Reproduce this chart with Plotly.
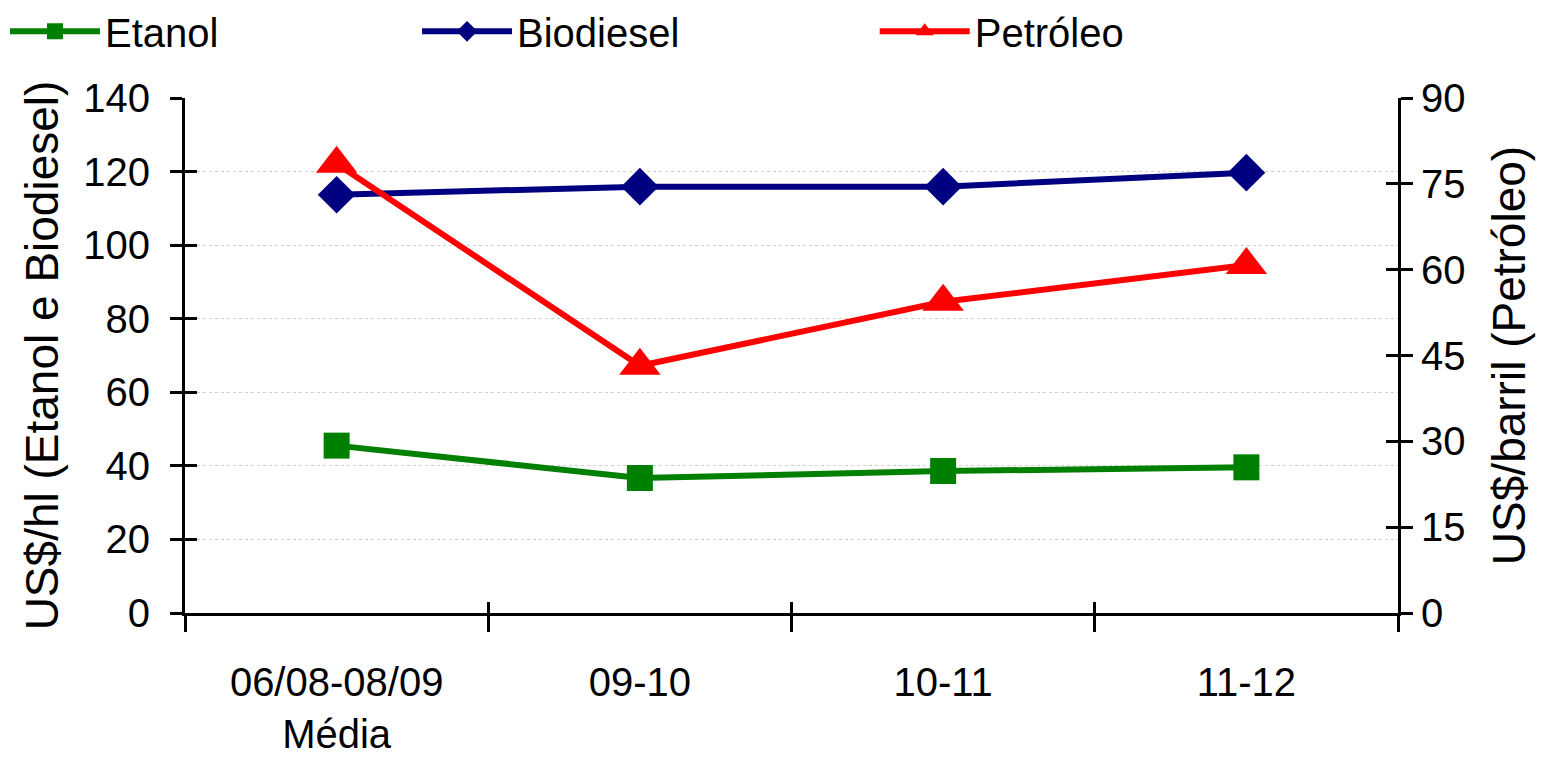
import plotly.graph_objects as go

categories = ["06/08-08/09<br>Média", "09-10", "10-11", "11-12"]
etanol = [45.5, 36.7, 38.6, 39.6]
biodiesel = [113.7, 115.9, 115.9, 119.7]
petroleo = [78.5, 43.2, 54.4, 60.8]

left_ticks = [0, 20, 40, 60, 80, 100, 120, 140]
right_ticks = [0, 15, 30, 45, 60, 75, 90]

FONT = "Liberation Sans, Arial, sans-serif"

fig = go.Figure()
fig.add_trace(go.Scatter(x=categories, y=etanol, name="Etanol", mode="lines+markers",
                         legend="legend",
                         line=dict(color="#008000", width=6),
                         marker=dict(symbol="square", size=26, color="#008000")))
fig.add_trace(go.Scatter(x=categories, y=biodiesel, name="Biodiesel", mode="lines+markers",
                         legend="legend2",
                         line=dict(color="#000080", width=6),
                         marker=dict(symbol="diamond", size=29, color="#000080")))
fig.add_trace(go.Scatter(x=categories, y=petroleo, name="Petróleo", mode="lines+markers",
                         yaxis="y2", legend="legend3",
                         line=dict(color="#FF0000", width=6),
                         marker=dict(symbol="triangle-up", size=36, color="#FF0000")))
# invisible helper traces so the overlay (tick-crossing) axes are drawn
fig.add_trace(go.Scatter(x=categories, y=etanol, xaxis="x2", yaxis="y3", mode="markers",
                         marker=dict(opacity=0), showlegend=False, hoverinfo="skip"))
fig.add_trace(go.Scatter(x=categories, y=petroleo, xaxis="x2", yaxis="y4", mode="markers",
                         marker=dict(opacity=0), showlegend=False, hoverinfo="skip"))

axis_common = dict(showline=True, linecolor="black", linewidth=3, tickcolor="black",
                   tickwidth=3, zeroline=False)

def leg(x):
    return dict(orientation="h", x=x, y=1.1295, xanchor="left", yanchor="middle",
                font=dict(size=40), itemwidth=90, bgcolor="rgba(0,0,0,0)")

fig.update_layout(
    width=1537, height=753,
    margin=dict(l=177, r=147, t=90, b=148, autoexpand=False),
    paper_bgcolor="white", plot_bgcolor="white",
    font=dict(family=FONT, size=40, color="black"),
    showlegend=True,
    legend=leg(-0.1484),
    legend2=leg(0.1913),
    legend3=leg(0.5686),
    xaxis=dict(**axis_common, type="category", range=[-0.5, 3.5], tickson="boundaries",
               ticks="outside", ticklen=16, showgrid=False, ticklabelstandoff=32,
               tickfont=dict(size=40), automargin=False),
    xaxis2=dict(**axis_common, type="category", range=[-0.5, 3.5], tickson="boundaries",
                ticks="inside", ticklen=11, showgrid=False, showticklabels=False,
                overlaying="x", anchor="y", automargin=False),
    yaxis=dict(**axis_common, range=[0, 140], tickvals=left_ticks, ticks="outside", ticklen=12,
               showgrid=True, gridcolor="#cfcfcf", gridwidth=1, griddash="dot",
               ticklabelstandoff=12, automargin=False,
               title=dict(text="US$/hl (Etanol e Biodiesel)", font=dict(size=46), standoff=11)),
    yaxis3=dict(**axis_common, range=[0, 140], tickvals=left_ticks, ticks="inside", ticklen=12,
                showgrid=False, showticklabels=False, overlaying="y", side="left", anchor="x2",
                automargin=False),
    yaxis2=dict(**axis_common, range=[0, 90], tickvals=right_ticks, ticks="outside", ticklen=12,
                showgrid=False, overlaying="y", side="right", anchor="x", automargin=False,
                title=dict(text="US$/barril (Petróleo)", font=dict(size=46), standoff=29)),
    yaxis4=dict(**axis_common, range=[0, 90], tickvals=right_ticks, ticks="inside", ticklen=12,
                showgrid=False, showticklabels=False, overlaying="y", side="right", anchor="x2",
                automargin=False),
)

fig.write_html("out.html")
